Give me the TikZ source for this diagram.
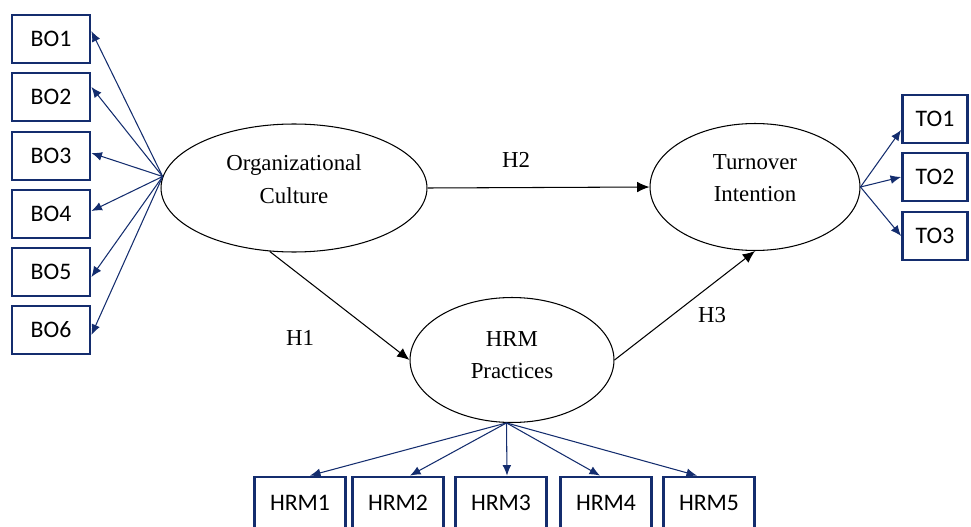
\documentclass[tikz,border=0pt]{standalone}
\usepackage{fontspec}
\setmainfont{Liberation Serif}
\newfontfamily\boxfont{Carlito}
\usetikzlibrary{positioning,arrows.meta,shapes.geometric}
\definecolor{navy}{RGB}{20,45,110}

\begin{document}
\begin{tikzpicture}[
  x=0.02cm, y=-0.02cm,
  >={Latex[length=7pt,width=6pt]},
  ind/.style={draw=navy, line width=1.6pt, minimum width=1.56cm,
              minimum height=0.96cm, inner sep=0pt,
              font=\boxfont\fontsize{13.5}{16}\selectfont},
  hind/.style={ind, minimum width=1.82cm, minimum height=1.04cm},
  lat/.style={draw, ellipse, semithick, inner sep=0pt, align=center,
              text depth=0.36cm, font=\fontsize{13}{18.5}\selectfont},
  load/.style={->, draw=navy, semithick, >={Latex[length=6pt,width=5pt]}},
  path/.style={->, semithick},
]
  \useasboundingbox (0,0) rectangle (971,527);
  % ── Latent constructs ──
  \node[lat, minimum width=5.32cm, minimum height=2.56cm] (oc) at (294,188)
    {Organizational\\Culture};
  \node[lat, minimum width=4.2cm, minimum height=2.54cm] (ti) at (755,187)
    {Turnover\\Intention};
  \node[lat, minimum width=4.08cm, minimum height=2.5cm, text depth=0.2cm]
    (hrm) at (512,360) {HRM\\Practices};
  % ── Indicators of organizational culture ──
  \node[ind] (bo1) at (51,39)  {BO1};
  \node[ind] (bo2) at (51,97)  {BO2};
  \node[ind] (bo3) at (51,156) {BO3};
  \node[ind] (bo4) at (51,214) {BO4};
  \node[ind] (bo5) at (51,272) {BO5};
  \node[ind] (bo6) at (51,330) {BO6};
  % ── Indicators of turnover intention ──
  \node[ind, minimum width=1.3cm] (to1) at (935,119) {TO1};
  \node[ind, minimum width=1.3cm] (to2) at (935,177) {TO2};
  \node[ind, minimum width=1.3cm] (to3) at (935,236) {TO3};
  % ── Indicators of HRM practices ──
  \node[hind] (hr1) at (300,503) {HRM1};
  \node[hind] (hr2) at (398,503) {HRM2};
  \node[hind] (hr3) at (501,503) {HRM3};
  \node[hind] (hr4) at (606,503) {HRM4};
  \node[hind] (hr5) at (709,503) {HRM5};
  % ── Loadings ──
  \foreach \i/\dy in {1/8,2/10,3/3,4/3,5/-5,6/-5}
    \draw[load] (oc.175) -- ([yshift=\dy*0.02cm]bo\i.east);
  \draw[load] (ti.east) -- ([yshift=-0.22cm]to1.west);
  \draw[load] (ti.east) -- (to2.west);
  \draw[load] (ti.east) -- (to3.west);
  \foreach \i/\dx in {1/10,2/12,3/6,4/-6,5/-12}
    \draw[load] (hrm.265) -- ([xshift=\dx*0.02cm]hr\i.north);
  % ── Structural paths ──
  \draw[path] (oc.east) -- (ti.west);
  \draw[path] (oc.249) -- (hrm.west);
  \draw[path] (hrm.east) -- (ti.south);
  \node[font=\fontsize{13}{16}\selectfont] (h2) at (516,160) {H2};
  \node[font=\fontsize{13}{16}\selectfont] (h1) at (300,338) {H1};
  \node[font=\fontsize{13}{16}\selectfont] (h3) at (712,315) {H3};
\end{tikzpicture}
\end{document}
